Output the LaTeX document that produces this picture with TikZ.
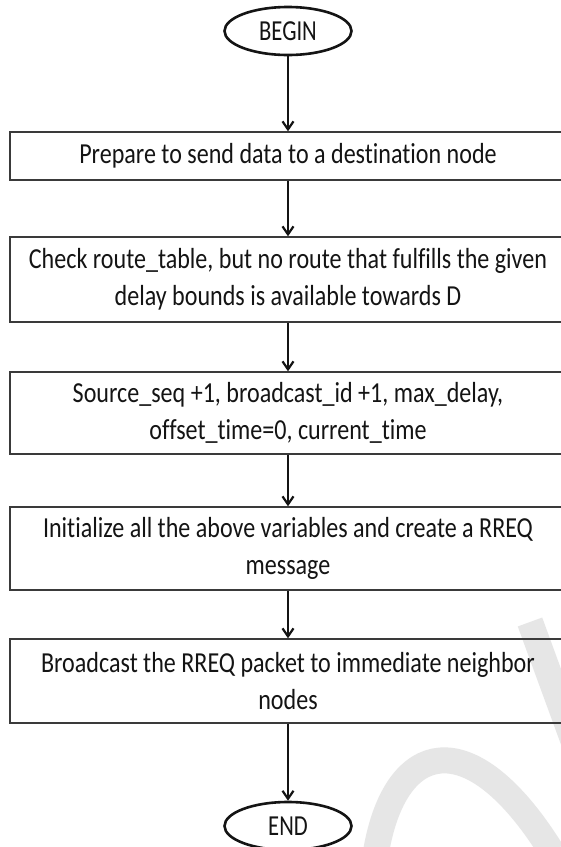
\documentclass[tikz,border=0pt]{standalone}
\usepackage{fontspec}
\setmainfont[Ligatures=NoCommon]{Carlito}
\newfontfamily\stepfont[Ligatures=NoCommon,FakeStretch=0.83]{Carlito}
\newfontfamily\ovalfont[Ligatures=NoCommon,FakeStretch=0.78]{Carlito}
\usetikzlibrary{shapes.geometric,arrows.meta}

\definecolor{inkcol}{HTML}{141414}
\definecolor{framecol}{HTML}{3A3A3A}
\definecolor{markcol}{HTML}{E6E6E6}

\tikzset{
  oval/.style={ellipse, draw=inkcol, line width=2.6pt, minimum width=127pt,
    minimum height=48pt, inner sep=0pt, text=inkcol,
    font=\ovalfont\fontsize{29}{32}\selectfont},
  stepbox/.style={rectangle, draw=framecol, line width=1.4pt, minimum width=556pt,
    inner sep=0pt, align=center, text=inkcol,
    font=\stepfont\fontsize{29}{37}\selectfont},
  flow/.style={draw=inkcol, line width=2.2pt, -{Straight Barb[length=8pt,width=11pt,line width=2.2pt]}},
  wmark/.style={draw=markcol, line width=26pt}
}

\begin{document}
\begin{tikzpicture}[x=1pt,y=-1pt]
  \useasboundingbox (0,0) rectangle (561,847);
  \clip (0,0) rectangle (561,847);
  \fill[white] (0,0) rectangle (561,847);

  % faint watermark strokes behind the chart
  \draw[wmark] (530,622) -- (575,745);
  \draw[wmark] (376,852) .. controls (395,740) and (470,720) .. (552,852);

  % terminals and process steps
  \node[oval] (begin) at (288,31) {BEGIN};
  \node[stepbox, minimum height=48pt] (b1) at (288,156)
    {Prepare to send data to a destination node};
  \node[stepbox, minimum height=85pt] (b2) at (288,279.5)
    {Check route\_table, but no route that fulfills the given\\delay bounds is available towards D};
  \node[stepbox, minimum height=82pt] (b3) at (288,413)
    {Source\_seq +1, broadcast\_id +1, max\_delay,\\offset\_time=0, current\_time};
  \node[stepbox, minimum height=83pt] (b4) at (288,548.5)
    {Initialize all the above variables and create a RREQ\\message};
  \node[stepbox, minimum height=84pt] (b5) at (288,681)
    {Broadcast the RREQ packet to immediate neighbor\\nodes};
  \node[oval] (end) at (288,826) {END};

  % control flow
  \draw[flow] (begin) -- (b1);
  \draw[flow] (b1) -- (b2);
  \draw[flow] (b2) -- (b3);
  \draw[flow] (b3) -- (b4);
  \draw[flow] (b4) -- (b5);
  \draw[flow] (b5) -- (end);
\end{tikzpicture}
\end{document}
